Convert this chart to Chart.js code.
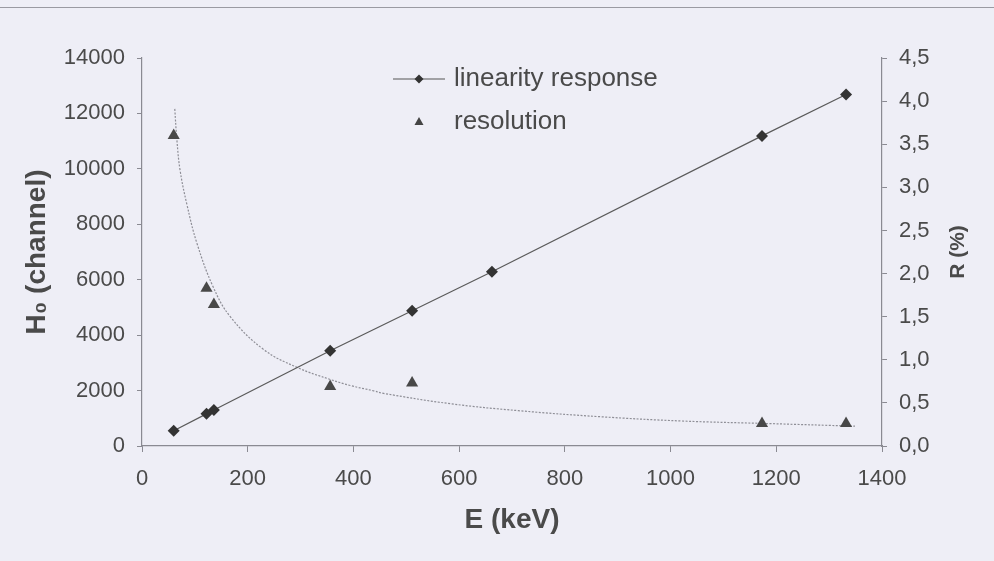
<!DOCTYPE html>
<html>
<head>
<meta charset="utf-8">
<script src="https://cdn.jsdelivr.net/npm/chart.js@4/dist/chart.umd.min.js"></script>
<style>
  html, body { margin: 0; padding: 0; background: #eeeef6; }
  #wrap { width: 994px; height: 561px; position: relative; }
</style>
</head>
<body>
<div id="wrap"><canvas id="calib" width="994" height="561"></canvas></div>
<script>
// Calibration lines (keV)
const energies = [60, 122, 136, 356, 511, 662, 1173, 1332];
// Pulse height H0 (channel)
const channels = [550, 1160, 1300, 3440, 4880, 6290, 11190, 12680];
// Resolution R (%)
const resolution = [3.60, 1.83, 1.64, 0.69, 0.73, null, 0.26, 0.26];

// Fitted resolution trend
const fitEnergy = [62, 66, 72, 85, 104, 135, 167, 230, 294, 357, 395, 438, 457, 584, 712, 866, 1021, 1186, 1349];
const fitR = [3.91, 3.55, 3.20, 2.80, 2.35, 1.84, 1.50, 1.12, 0.91, 0.77, 0.70, 0.64, 0.61, 0.49, 0.41, 0.34, 0.29, 0.26, 0.23];

const xTicks = [0, 200, 400, 600, 800, 1000, 1200, 1400];

const FONT = "'Liberation Sans', Arial, sans-serif";
const TXT = '#4a4a4a';
const AXIS = '#8a8a92';

const pts = (xs, ys) => xs.map((x, i) => ({ x: x, y: ys[i] })).filter(p => p.y !== null);

// page background and the thin rule across the top
const backdrop = {
    id: 'backdrop',
    beforeDraw(chart) {
        const { ctx, width } = chart;
        ctx.save();
        ctx.fillStyle = '#eeeef6';
        ctx.fillRect(0, 0, width, chart.height);
        ctx.strokeStyle = '#9a9aa2';
        ctx.lineWidth = 1;
        ctx.beginPath();
        ctx.moveTo(0, 7.5);
        ctx.lineTo(width, 7.5);
        ctx.stroke();
        ctx.restore();
    }
};

// legend inside the plot, plus the right axis title read bottom-up
const innerLegend = {
    id: 'innerLegend',
    afterDraw(chart) {
        const ctx = chart.ctx;
        ctx.save();
        ctx.font = '26px ' + FONT;
        ctx.fillStyle = TXT;
        ctx.textBaseline = 'middle';

        // linearity response
        ctx.strokeStyle = '#555';
        ctx.lineWidth = 1.2;
        ctx.beginPath();
        ctx.moveTo(393, 79);
        ctx.lineTo(445, 79);
        ctx.stroke();
        ctx.fillStyle = '#333';
        ctx.beginPath();
        ctx.moveTo(419, 74.5);
        ctx.lineTo(423.5, 79);
        ctx.lineTo(419, 83.5);
        ctx.lineTo(414.5, 79);
        ctx.closePath();
        ctx.fill();
        ctx.fillStyle = TXT;
        ctx.fillText('linearity response', 454, 79);

        // resolution
        ctx.fillStyle = '#444';
        ctx.beginPath();
        ctx.moveTo(419, 117);
        ctx.lineTo(423.5, 125);
        ctx.lineTo(414.5, 125);
        ctx.closePath();
        ctx.fill();
        ctx.fillStyle = TXT;
        ctx.fillText('resolution', 454, 122);

        // R (%) title
        const y2 = chart.scales.y2;
        ctx.translate(958, (y2.top + y2.bottom) / 2);
        ctx.rotate(-Math.PI / 2);
        ctx.textAlign = 'center';
        ctx.font = 'bold 21px ' + FONT;
        ctx.fillText('R (%)', 0, 0);
        ctx.restore();
    }
};

new Chart(document.getElementById('calib'), {
    type: 'scatter',
    data: {
        datasets: [
            {
                label: 'linearity response',
                data: pts(energies, channels),
                yAxisID: 'y',
                showLine: true,
                borderColor: '#5a5a5a',
                borderWidth: 1.2,
                pointStyle: 'rectRot',
                pointRadius: 6,
                pointBackgroundColor: '#333',
                pointBorderColor: '#333',
                pointBorderWidth: 0
            },
            {
                label: 'resolution',
                data: pts(energies, resolution),
                yAxisID: 'y2',
                showLine: false,
                pointStyle: 'triangle',
                pointRadius: 7,
                pointBackgroundColor: '#484848',
                pointBorderColor: '#484848',
                pointBorderWidth: 0
            },
            {
                label: 'fit',
                data: pts(fitEnergy, fitR),
                yAxisID: 'y2',
                showLine: true,
                borderColor: '#8e8e96',
                borderWidth: 1.2,
                borderDash: [2, 1.5],
                tension: 0.4,
                pointRadius: 0
            }
        ]
    },
    options: {
        responsive: false,
        animation: false,
        devicePixelRatio: 1,
        layout: { padding: { top: 58, left: 0, right: 0, bottom: 0 } },
        plugins: { legend: { display: false }, tooltip: { enabled: false } },
        scales: {
            x: {
                type: 'linear',
                min: 0,
                max: 1400,
                afterBuildTicks: s => { s.ticks = xTicks.map(v => ({ value: v })); },
                afterFit: s => { s.height = 115; },
                border: { color: AXIS, width: 1.2 },
                grid: { drawOnChartArea: false, tickLength: 6, color: AXIS },
                ticks: {
                    color: TXT, font: { family: FONT, size: 22 }, padding: 14, maxRotation: 0,
                    callback: v => String(v)
                },
                title: {
                    display: true, text: 'E (keV)', color: TXT,
                    font: { family: FONT, size: 28, weight: 'bold' },
                    padding: { top: 0, bottom: 24 }
                }
            },
            y: {
                position: 'left',
                min: 0,
                max: 14000,
                ticks: {
                    stepSize: 2000, color: TXT, font: { family: FONT, size: 22 }, padding: 12,
                    callback: v => String(v)
                },
                afterFit: s => { s.width = 142; },
                border: { color: AXIS, width: 1.2 },
                grid: { drawOnChartArea: false, tickLength: 5, color: AXIS },
                title: {
                    display: true, text: 'H\u2080 (channel)', color: TXT,
                    font: { family: FONT, size: 28, weight: 'bold' },
                    padding: { top: 20, bottom: 0 }
                }
            },
            y2: {
                position: 'right',
                min: 0,
                max: 4.5,
                ticks: {
                    stepSize: 0.5, color: TXT, font: { family: FONT, size: 22 }, padding: 12,
                    callback: v => v.toFixed(1).replace('.', ',')
                },
                afterFit: s => { s.width = 112; },
                border: { color: AXIS, width: 1.2 },
                grid: { drawOnChartArea: false, tickLength: 5, color: AXIS }
            }
        }
    },
    plugins: [backdrop, innerLegend]
});
</script>
</body>
</html>
